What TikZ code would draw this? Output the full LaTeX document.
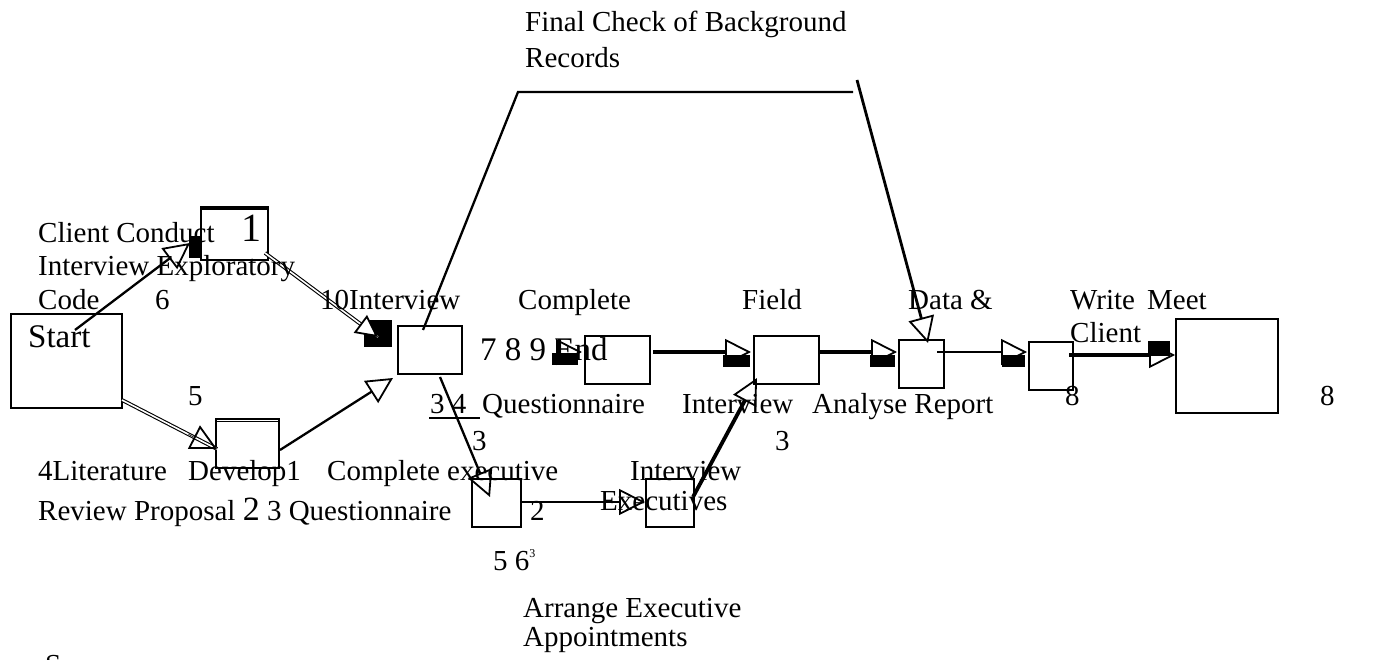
\documentclass[tikz,border=0pt]{standalone}
\usepackage{fontspec}
\setmainfont{Liberation Serif}
\usetikzlibrary{arrows.meta,calc}
\begin{document}
\begin{tikzpicture}[x=1pt,y=-1pt,
  txt/.style={anchor=base west, inner sep=0pt, font=\fontsize{29}{33}\selectfont},
  bigtxt/.style={anchor=base west, inner sep=0pt, font=\fontsize{33}{38}\selectfont},
  hugetxt/.style={anchor=base west, inner sep=0pt, font=\fontsize{40}{44}\selectfont},
  box/.style={draw, line width=2pt, inner sep=0pt, anchor=north west},
  conn/.style={line width=2.3pt},
  heavy/.style={line width=3.8pt},
  dbl/.style={double, double distance=1.6pt, line width=1.1pt},
  tip/.style={-{Triangle[open,length=26pt,width=26pt,line width=1.8pt]}},
  wtip/.style={-{Triangle[fill=white,length=22pt,width=22pt,line width=1.8pt]}},
  blk/.style={fill=black}
]
\useasboundingbox (0,0) rectangle (1387,660);
\clip (0,0) rectangle (1387,660);

% boxes
\node[box, minimum width=111pt, minimum height=94pt] (start) at (10,313) {};
\node[box, minimum width=67pt, minimum height=51pt] (box1) at (200,208) {};
\draw[line width=3.5pt] (box1.north west) -- (box1.north east);
\node[box, minimum width=64pt, minimum height=48pt] (iv) at (397,325) {};
\node[box, minimum width=63pt, minimum height=49pt] (dev) at (215,418) {};
\draw[line width=1pt] ([yshift=-3pt]dev.north west) -- ([yshift=-3pt]dev.north east);
\node[box, minimum width=65pt, minimum height=48pt] (cq) at (584,335) {};
\node[box, minimum width=65pt, minimum height=48pt] (field) at (753,335) {};
\node[box, minimum width=49pt, minimum height=48pt] (ce) at (471,478) {};
\node[box, minimum width=48pt, minimum height=48pt] (ie) at (645,478) {};
\node[box, minimum width=45pt, minimum height=48pt] (data) at (898,339) {};
\node[box, minimum width=44pt, minimum height=48pt] (write) at (1028,341) {};
\node[box, minimum width=102pt, minimum height=94pt] (meet) at (1175,318) {};

% connector end points
\coordinate (s1a) at (75,330);
\coordinate (s1b) at (190,243);
\coordinate (b1a) at (265,253);
\coordinate (b1b) at (378,337);
\coordinate (sda) at (122,400);
\coordinate (sdb) at (217,449);
\coordinate (dia) at (280,450);
\coordinate (dib) at (393,378);
\coordinate (fc0) at (423,330);
\coordinate (fc1) at (518,92);
\coordinate (fc2) at (853,92);
\coordinate (fc3) at (857,80);
\coordinate (fc4) at (928,343);
\coordinate (ica) at (440,377);
\coordinate (icb) at (490,497);
\coordinate (cea) at (520,502);
\coordinate (ceb) at (645,502);
\coordinate (iea) at (693,497);
\coordinate (ieb) at (757,378);
\coordinate (cqa) at (560,352);
\coordinate (cqb) at (582,352);
\coordinate (qfa) at (653,352);
\coordinate (qfb) at (751,352);
\coordinate (fda) at (818,352);
\coordinate (fdb) at (897,352);
\coordinate (dwa) at (937,352);
\coordinate (dwb) at (1027,352);
\coordinate (wma) at (1069,355);
\coordinate (wmb) at (1175,355);

% Start -> Client Conduct
\draw[conn, tip] (s1a) -- (s1b);
\fill[blk] (189,236) rectangle (202,258);
% Client Conduct -> Interview
\fill[blk] (364,320) rectangle (392,347);
\draw[dbl] (b1a) -- (b1b);
\draw[wtip, line width=0.6pt] ($(b1a)!0.85!(b1b)$) -- (b1b);
% Start -> Develop
\draw[dbl] (sda) -- (sdb);
\draw[tip, line width=0.6pt] ($(sda)!0.7!(sdb)$) -- (sdb);
% Develop -> Interview
\draw[conn, tip] (dia) -- (dib);
% Final check
\draw[conn] (fc0) -- (fc1) -- (fc2);
\draw[line width=2.8pt, tip] (fc3) -- (fc4);
% Interview -> Complete executive
\draw[conn, tip] (ica) -- (icb);
% Complete executive -> Interview Executives
\draw[line width=1.8pt, tip] (cea) -- (ceb);
% Interview Executives -> Field
\draw[heavy, tip] (iea) -- (ieb);
% into Complete Questionnaire
\draw[conn, tip] (cqa) -- (cqb);
\fill[blk] (552,353) rectangle (578,365);
% Complete -> Field
\draw[heavy, tip] (qfa) -- (qfb);
\fill[blk] (723,355) rectangle (750,367);
% Field -> Data
\draw[heavy, tip] (fda) -- (fdb);
\fill[blk] (870,355) rectangle (895,367);
% Data -> Write
\draw[conn, tip] (dwa) -- (dwb);
\fill[blk] (1002,355) rectangle (1025,367);
% Write -> Meet
\draw[heavy, tip] (wma) -- (wmb);
\fill[blk] (1148,341) rectangle (1170,356);

% texts
\node[txt] (t1) at (525,32) {Final Check of Background};
\node[txt] (t2) at (525,68) {Records};
\node[txt] (t3) at (38,243) {Client Conduct};
\node[txt] (t4) at (38,276) {Interview Exploratory};
\node[txt] (t5) at (38,310) {Code};
\node[txt] (t6) at (155,310) {6};
\node[txt] (t7) at (320,310) {10Interview};
\node[bigtxt] (t8) at (28,348) {Start};
\node[hugetxt] (t9) at (241,242) {1};
\node[txt] (t10) at (518,310) {Complete};
\node[txt] (t11) at (742,310) {Field};
\node[txt] (t12) at (908,310) {Data \&};
\node[txt] (t13) at (1070,310) {Write};
\node[txt] (t14) at (1147,310) {Meet};
\node[txt] (t15) at (1070,342) {Client};
\node[bigtxt] (t16) at (480,360) {7 8 9 End};
\node[txt] (t17) at (188,405) {5};
\node[txt] (t18) at (430,413) {3 4};
\draw[line width=1.2pt] (429,418) -- (480,418);
\node[txt] (t19) at (482,413) {Questionnaire};
\node[txt] (t20) at (682,413) {Interview};
\node[txt] (t21) at (812,413) {Analyse Report};
\node[txt] (t22) at (1065,405) {8};
\node[txt] (t23) at (1320,405) {8};
\node[txt] (t24) at (472,450) {3};
\node[txt] (t25) at (775,450) {3};
\node[txt] (t26) at (38,480) {4Literature};
\node[txt] (t27) at (188,480) {Develop1};
\node[txt] (t28) at (327,480) {Complete executive};
\node[txt] (t29) at (630,480) {Interview};
\node[txt] (t30) at (600,510) {Executives};
\node[txt] (t31) at (38,520) {Review Proposal {\fontsize{34}{38}\selectfont 2} 3 Questionnaire};
\node[txt] (t32) at (530,520) {2};
\node[txt] (t33) at (493,570) {5 6\raisebox{13pt}{\fontsize{12}{12}\selectfont 3}};
\node[txt] (t34) at (523,617) {Arrange Executive};
\node[txt] (t35) at (523,646) {Appointments};
\node[txt] (t36) at (45,674) {S};
\end{tikzpicture}
\end{document}
